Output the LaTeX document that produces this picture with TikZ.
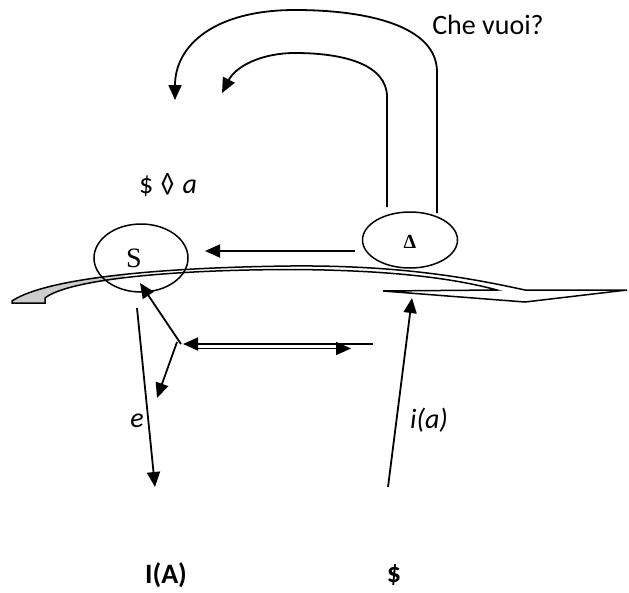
\documentclass[tikz,border=0pt]{standalone}
\usepackage{fontspec}
\setmainfont{Carlito}
\newfontfamily\timesf{Liberation Serif}
\usetikzlibrary{arrows.meta,shapes.geometric}
\begin{document}
\begin{tikzpicture}[x=1pt,y=-1pt,
  ln/.style={line width=1.8pt},
  arr/.style={ln,-{Triangle[length=15pt,width=13pt]}},
  ell/.style={ellipse,draw,line width=1.5pt,inner sep=0pt},
  lbl/.style={inner sep=0pt,font=\fontsize{28}{32}\selectfont},
  blbl/.style={inner sep=0pt,font=\fontsize{28}{32}\selectfont\bfseries},
  band/.style={line width=1.5pt,line join=miter}]
\useasboundingbox (0,0) rectangle (629,592);
\def\bandpath{(12,301) .. controls (40,282) and (130,268) .. (290,266) .. controls (400,265) and (470,278) .. (525,290) -- (627,290) -- (525,302) -- (383,291) -- (497,290) .. controls (460,280) and (400,270) .. (290,269.5) .. controls (150,270) and (65,282) .. (45,298) -- (45,303) -- (12,303) -- cycle}
% band
\fill[white] \bandpath;
\begin{scope}
  \clip (0,250) rectangle (125,320);
  \fill[gray!40] \bandpath;
\end{scope}
\draw[band] \bandpath;
% ellipses
\node[ell,minimum width=94pt,minimum height=68pt] (S) at (141,258) {};
\node[inner sep=0pt,font=\timesf\fontsize{28}{30}\selectfont] (Stxt) at (134,258) {S};
\node[ell,minimum width=95pt,minimum height=56pt] (D) at (410,240) {};
\node[inner sep=0pt,font=\timesf\bfseries\fontsize{20}{22}\selectfont] (Dtxt) at (410,242) {Δ};
% texts
\node[lbl] (che) at (488,25) {Che vuoi?};
\node[lbl] (sa) at (168,185) {\$\hspace{7pt}◊\hspace{8pt}\textit{a}};
\node[lbl] (e) at (137,421) {\textit{e}};
\node[lbl] (ia) at (429,420) {\textit{i(a)}};
\node[blbl] (IA) at (166,575) {I(A)};
\node[blbl] (dol) at (394,575) {\$};
% coordinates
\coordinate (hD) at (355,251);
\coordinate (hS) at (205,251);
\coordinate (oStart) at (437,213);
\coordinate (oEnd) at (175,100);
\coordinate (iStart) at (387,207);
\coordinate (iEnd) at (222,93);
\coordinate (eTop) at (137,308);
\coordinate (eBot) at (155,487);
\coordinate (fork) at (181,344);
\coordinate (Sin) at (140,283);
\coordinate (fDown) at (157,398);
\coordinate (dL) at (183,344);
\coordinate (dLend) at (373,344);
\coordinate (dRs) at (195,348.5);
\coordinate (dR) at (351,348.5);
\coordinate (iaBot) at (388,487);
\coordinate (iaTop) at (412,298);
% connectors
\draw[arr] (hD) -- (hS);
\draw[arr] (oStart) -- (437,72) .. controls (437,25) and (365,10) .. (295,10) .. controls (215,10) and (175,45) .. (oEnd);
\draw[arr] (iStart) -- (387,97) .. controls (387,65) and (345,53) .. (295,53) .. controls (262,53) and (236,66) .. (iEnd);
\draw[arr] (eTop) -- (eBot);
\draw[arr] (fork) -- (Sin);
\draw[arr] ([xshift=-4pt,yshift=2pt]fork) -- (fDown);
\draw[arr] (dLend) -- (dL);
\draw[arr] (dRs) -- (dR);
\draw[arr] (iaBot) -- (iaTop);
\end{tikzpicture}
\end{document}
